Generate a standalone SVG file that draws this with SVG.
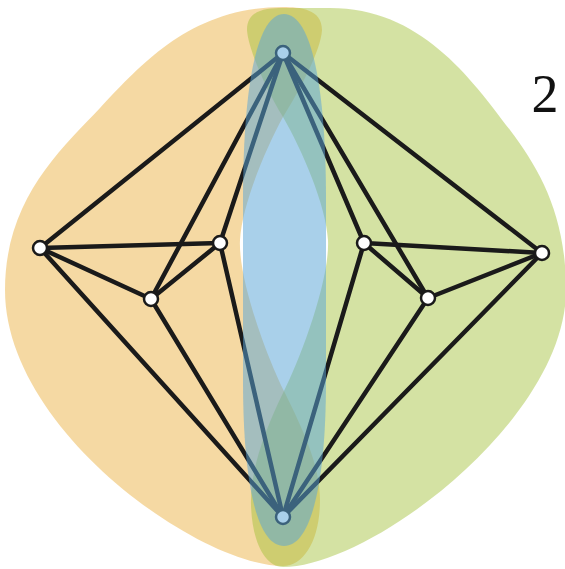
<svg xmlns="http://www.w3.org/2000/svg" width="565" height="569" viewBox="0 0 565 569">
<style>
.orange{fill:rgb(233,170,50);fill-opacity:0.45}
.green{fill:rgb(160,190,50);fill-opacity:0.45}
.blue{fill:rgb(90,165,215);fill-opacity:0.52}
.edge{stroke:#1a1a1a;stroke-width:4.5;stroke-linecap:round;fill:none}
.node circle{fill:#ffffff;stroke:#1a1a1a;stroke-width:2.5}
.label{font-family:"Liberation Serif","Times New Roman",serif;font-size:54px;fill:#111}
</style>
<rect width="565" height="569" fill="#ffffff"/>
<g id="regions">
<path id="region-orange" class="orange" d="M283,7 C300,7 322,9 322,30 C321,50 300,90 283,117 C265,150 242,205 240,240 C238,280 268,360 285,393 C303,430 320,465 320,500 C320,540 304,566 283,566 C200,566 5,430 5,290 C5,200 60,150 100,108 C140,66 190,7 283,7 Z"/>
<path id="region-green" class="green" d="M283,8 C266,8 247,10 247,30 C248,48 266,90 283,117 C302,150 326,205 328,240 C330,280 300,360 283,393 C265,430 250,470 251,505 C252,540 264,567 283,567 C370,567 566,420 566,290 C566,215 540,170 510,130 C470,77 420,8 330,8 L283,8 Z"/>
</g>
<g id="connectors">
<line class="edge" x1="40" y1="248" x2="283" y2="53"/>
<line class="edge" x1="40" y1="248" x2="220" y2="243"/>
<line class="edge" x1="40" y1="248" x2="151" y2="299"/>
<line class="edge" x1="40" y1="248" x2="283" y2="517"/>
<line class="edge" x1="220" y1="243" x2="283" y2="53"/>
<line class="edge" x1="220" y1="243" x2="151" y2="299"/>
<line class="edge" x1="220" y1="243" x2="283" y2="517"/>
<line class="edge" x1="151" y1="299" x2="283" y2="53"/>
<line class="edge" x1="151" y1="299" x2="283" y2="517"/>
<line class="edge" x1="542" y1="253" x2="283" y2="53"/>
<line class="edge" x1="542" y1="253" x2="364" y2="243"/>
<line class="edge" x1="542" y1="253" x2="428" y2="298"/>
<line class="edge" x1="542" y1="253" x2="283" y2="517"/>
<line class="edge" x1="364" y1="243" x2="283" y2="53"/>
<line class="edge" x1="364" y1="243" x2="428" y2="298"/>
<line class="edge" x1="364" y1="243" x2="283" y2="517"/>
<line class="edge" x1="428" y1="298" x2="283" y2="53"/>
<line class="edge" x1="428" y1="298" x2="283" y2="517"/>
</g>
<g id="node-T" class="node"><circle cx="283" cy="53" r="7"/></g>
<g id="node-B" class="node"><circle cx="283" cy="517" r="7"/></g>
<g id="node-L" class="node"><circle cx="40" cy="248" r="7"/></g>
<g id="node-A" class="node"><circle cx="220" cy="243" r="7"/></g>
<g id="node-C" class="node"><circle cx="151" cy="299" r="7"/></g>
<g id="node-R" class="node"><circle cx="542" cy="253" r="7"/></g>
<g id="node-D" class="node"><circle cx="364" cy="243" r="7"/></g>
<g id="node-E" class="node"><circle cx="428" cy="298" r="7"/></g>
<g id="region-blue-group">
<path id="region-blue" class="blue" d="M284,14 C312,14 326,90 326,200 L326,380 C326,480 312,546 284,546 C256,546 243,480 243,380 L243,200 C243,90 256,14 284,14 Z"/>
</g>
<text class="label" x="545" y="112" text-anchor="middle">2</text>
</svg>
